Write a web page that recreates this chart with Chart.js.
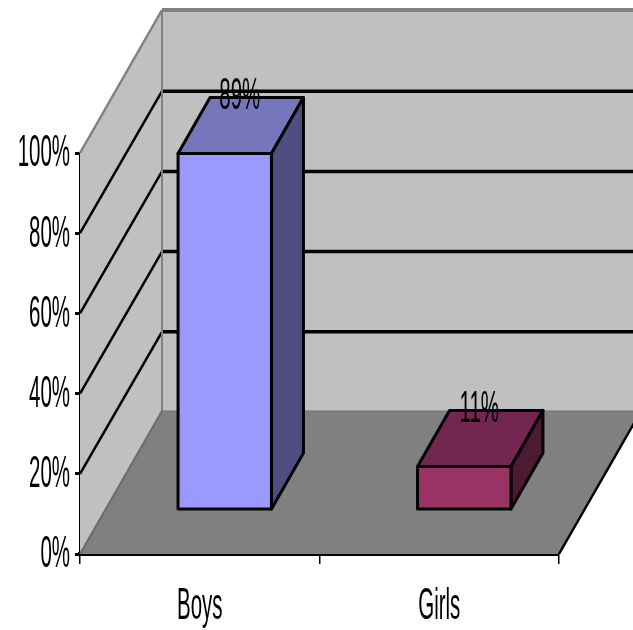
<!DOCTYPE html>
<html>
<head>
<meta charset="utf-8">
<title>Boys and Girls</title>
<style>
  html, body { margin: 0; padding: 0; background: #fff; overflow: hidden; }
  canvas { display: block; }
</style>
<script src="https://cdn.jsdelivr.net/npm/chart.js@4/dist/chart.umd.min.js"></script>
</head>
<body>
<canvas id="shareChart" width="633" height="630"></canvas>
<script>
const categories = ["Boys", "Girls"];
const shares = [89, 11];
const frontColors = ["#9999ff", "#993366"];
const topColors = ["#7676bc", "#732650"];
const sideColors = ["#4e4e80", "#4d1a33"];

// 3D projection offsets, in pixels
const WALL_DX = 82;
const WALL_DY = -143;
const GRID_DY = -142;
const BAR_DX = 32;
const BAR_DY = -56;
const BAR_SHIFT_X = 25;
const BAR_SHIFT_Y = -43.5;

function poly(ctx, pts, fill, stroke, lineWidth) {
  ctx.beginPath();
  pts.forEach((p, i) => (i ? ctx.lineTo(p[0], p[1]) : ctx.moveTo(p[0], p[1])));
  ctx.closePath();
  if (fill) {
    ctx.fillStyle = fill;
    ctx.fill();
  }
  if (stroke) {
    ctx.strokeStyle = stroke;
    ctx.lineWidth = lineWidth;
    ctx.stroke();
  }
}

function line(ctx, x1, y1, x2, y2, color, width) {
  ctx.beginPath();
  ctx.moveTo(x1, y1);
  ctx.lineTo(x2, y2);
  ctx.strokeStyle = color;
  ctx.lineWidth = width;
  ctx.stroke();
}

// The labels are a tall, condensed face: draw at full size and squeeze x
function squeezedText(ctx, text, x, y, align) {
  ctx.save();
  ctx.translate(x, y);
  ctx.scale(0.455, 1);
  ctx.font = '45px "Liberation Sans"';
  ctx.fillStyle = "#000";
  ctx.textAlign = align;
  ctx.textBaseline = "middle";
  ctx.fillText(text, 0, 0);
  ctx.restore();
}

const box3d = {
  id: "box3d",
  beforeDatasetsDraw(chart) {
    const { ctx, chartArea: a, scales } = chart;
    const far = a.right + WALL_DX;

    ctx.save();
    // back wall
    poly(ctx, [[a.left + WALL_DX, a.top + WALL_DY], [far, a.top + WALL_DY], [far, a.bottom + WALL_DY], [a.left + WALL_DX, a.bottom + WALL_DY]], "#c0c0c0");
    // left wall
    poly(ctx, [[a.left, a.top], [a.left + WALL_DX, a.top + WALL_DY], [a.left + WALL_DX, a.bottom + WALL_DY], [a.left, a.bottom]], "#c0c0c0");
    // floor
    poly(ctx, [[a.left, a.bottom], [a.right, a.bottom], [far, a.bottom + WALL_DY], [a.left + WALL_DX, a.bottom + WALL_DY]], "#808080");

    // gridlines run along the left wall, then across the back
    scales.y.ticks.forEach((t) => {
      if (t.value === 0 || t.value === 100) return;
      const y = scales.y.getPixelForValue(t.value);
      line(ctx, a.left, y, a.left + WALL_DX, y + GRID_DY, "#000", 2.5);
      line(ctx, a.left + WALL_DX, y + GRID_DY, far, y + GRID_DY, "#000", 3.5);
    });

    // wall edges
    line(ctx, a.left, a.top, a.left + WALL_DX, a.top + WALL_DY, "#808080", 2.5);
    line(ctx, a.left + WALL_DX, a.top + WALL_DY, a.left + WALL_DX, a.bottom + WALL_DY, "#808080", 2);
    line(ctx, a.left + WALL_DX, a.top + WALL_DY, far, a.top + WALL_DY, "#808080", 4);
    line(ctx, a.left, a.bottom, a.left + WALL_DX, a.bottom + WALL_DY, "#6a6a6a", 2);
    line(ctx, a.left + WALL_DX, a.bottom + WALL_DY, far, a.bottom + WALL_DY, "#707070", 1);
    line(ctx, a.right, a.bottom, far, a.bottom + WALL_DY, "#000", 2.5);
    ctx.restore();

    // bars sit part way into the floor; top and side faces go behind the front
    ctx.save();
    ctx.translate(BAR_SHIFT_X, BAR_SHIFT_Y);
    ctx.lineJoin = "round";
    chart.getDatasetMeta(0).data.forEach((bar, i) => {
      const l = bar.x - bar.width / 2;
      const r = bar.x + bar.width / 2;
      poly(ctx, [[l, bar.y], [r, bar.y], [r + BAR_DX, bar.y + BAR_DY], [l + BAR_DX, bar.y + BAR_DY]], topColors[i], "#000", 3);
      poly(ctx, [[r, bar.y], [r + BAR_DX, bar.y + BAR_DY], [r + BAR_DX, bar.base + BAR_DY], [r, bar.base]], sideColors[i], "#000", 3);
    });
  },
  afterDatasetsDraw(chart) {
    const { ctx, scales } = chart;

    // outline of the front face, centred on the bar's edges
    chart.getDatasetMeta(0).data.forEach((bar) => {
      const l = bar.x - bar.width / 2;
      const r = bar.x + bar.width / 2;
      poly(ctx, [[l, bar.y], [r, bar.y], [r, bar.base], [l, bar.base]], null, "#000", 3);
    });
    ctx.restore();

    scales.y.ticks.forEach((t) => {
      squeezedText(ctx, t.label, 70, scales.y.getPixelForValue(t.value) + 1, "right");
    });
    categories.forEach((name, i) => {
      squeezedText(ctx, name, scales.x.getPixelForValue(i), 607, "center");
    });
    chart.getDatasetMeta(0).data.forEach((bar, i) => {
      squeezedText(ctx, shares[i] + "%", bar.x + BAR_SHIFT_X + BAR_DX / 2 - 1, bar.y + BAR_SHIFT_Y + BAR_DY - 1, "center");
    });
  }
};

new Chart(document.getElementById("shareChart"), {
  type: "bar",
  data: {
    labels: categories,
    datasets: [{
      data: shares,
      backgroundColor: frontColors,
      borderWidth: 0,
      categoryPercentage: 1,
      barPercentage: 0.39,
      clip: false
    }]
  },
  options: {
    responsive: false,
    animation: false,
    layout: { padding: { left: 75, right: 74, top: 153, bottom: 66 } },
    plugins: { legend: { display: false }, tooltip: { enabled: false } },
    scales: {
      x: {
        grid: { drawOnChartArea: false, offset: true, color: "#000", lineWidth: 1.5, tickLength: 10 },
        border: { color: "#000", width: 4 },
        ticks: { display: false }
      },
      y: {
        min: 0,
        max: 100,
        grid: { drawOnChartArea: false, color: "#000", lineWidth: 3, tickLength: 5 },
        border: { color: "#000", width: 2 },
        ticks: { display: false, stepSize: 20, callback: (v) => v + "%" }
      }
    }
  },
  plugins: [box3d]
});
</script>
</body>
</html>
